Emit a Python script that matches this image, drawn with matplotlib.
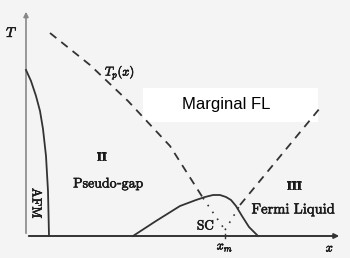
import matplotlib
matplotlib.use("Agg")
import matplotlib.pyplot as plt
from matplotlib.patches import Rectangle
import matplotlib.patheffects as pe

plt.rcParams["mathtext.fontset"] = "cm"

# schematic phase diagram, x = doping, T = temperature (arbitrary units)
afm_x = [0, 5, 10, 14, 17, 20, 22, 23]
afm_t = [166, 155, 140, 125, 107, 80, 45, 0]

tp_x = [24, 64, 102, 144, 177]
tp_t = [203, 171, 135, 90, 38]
tp_dot_x = [177, 188, 199]
tp_dot_t = [38, 22, 6]

fl_x = [214, 294]
fl_t = [31, 128]
fl_dot_x = [199, 207, 214]
fl_dot_t = [6, 19, 31]

sc_x = [107, 130, 154, 170, 179, 187, 194, 200, 205, 210, 216, 223, 232]
sc_t = [0, 15, 30, 36, 39, 41, 41, 39, 36, 30, 20, 9, 0]

x_m = 199
x_end = 316
t_end = 227

fig = plt.figure(figsize=(3.5, 2.58), dpi=100)
fig.patch.set_facecolor("#f4f4f4")
ax = fig.add_axes([0, 0, 1, 1])
ax.set_xlim(-26, 324)
ax.set_ylim(-22, 236)
ax.axis("off")

# white box behind the "Marginal FL" label
ax.add_patch(Rectangle((117, 114), 175, 34, facecolor="white", edgecolor="none", zorder=1))

# axes with arrows
ax.annotate("", xy=(x_end, 0), xytext=(0, 0),
            arrowprops=dict(arrowstyle="-|>", color="#333333", lw=1.4, mutation_scale=7))
ax.annotate("", xy=(0, t_end), xytext=(0, 0),
            arrowprops=dict(arrowstyle="-|>", color="#888888", lw=1.2, mutation_scale=7))
ax.plot([x_m, x_m], [-2, 2], color="#333333", lw=1)

line_kw = dict(color="#333333", lw=1.3, zorder=3)
ax.plot(afm_x, afm_t, **line_kw)
ax.plot(sc_x, sc_t, **line_kw)
ax.plot(tp_x, tp_t, dashes=(4.5, 3.5), **line_kw)
ax.plot(fl_x, fl_t, dashes=(4.5, 3.5), **line_kw)
ax.plot(tp_dot_x, tp_dot_t, color="#333333", lw=1.2, dashes=(1, 4))
ax.plot(fl_dot_x, fl_dot_t, color="#333333", lw=1.2, dashes=(1, 4))

tc = "#1a1a1a"
heavy = [pe.withStroke(linewidth=0.4, foreground=tc)]
labels = [
    (-14, 203, r"$T$", 10, 0),
    (304, -12, r"$x$", 9, 0),
    (x_m, -11, r"$x_m$", 9, 0),
    (94, 164, r"$T_p(x)$", 9, 0),
    (76, 79, r"$\mathbf{II}$", 9, 0),
    (83, 52, r"$\mathrm{Pseudo}$-$\mathrm{gap}$", 10, 0),
    (10, 32, r"$\mathrm{AFM}$", 9.5, -90),
    (269, 50, r"$\mathbf{III}$", 9, 0),
    (268, 27, r"$\mathrm{Fermi\ Liquid}$", 10.5, 0),
    (180, 10, r"$\mathrm{SC}$", 9.5, 0),
]
for lx, ly, s, fs, rot in labels:
    ax.text(lx, ly, s, fontsize=fs, ha="center", va="center", rotation=rot,
            color=tc, path_effects=heavy)

ax.text(200, 132, "Marginal FL", fontsize=12, family="Liberation Sans",
        ha="center", va="center", color="black", zorder=4)

fig.savefig("out.png", dpi=100, facecolor=fig.get_facecolor())
